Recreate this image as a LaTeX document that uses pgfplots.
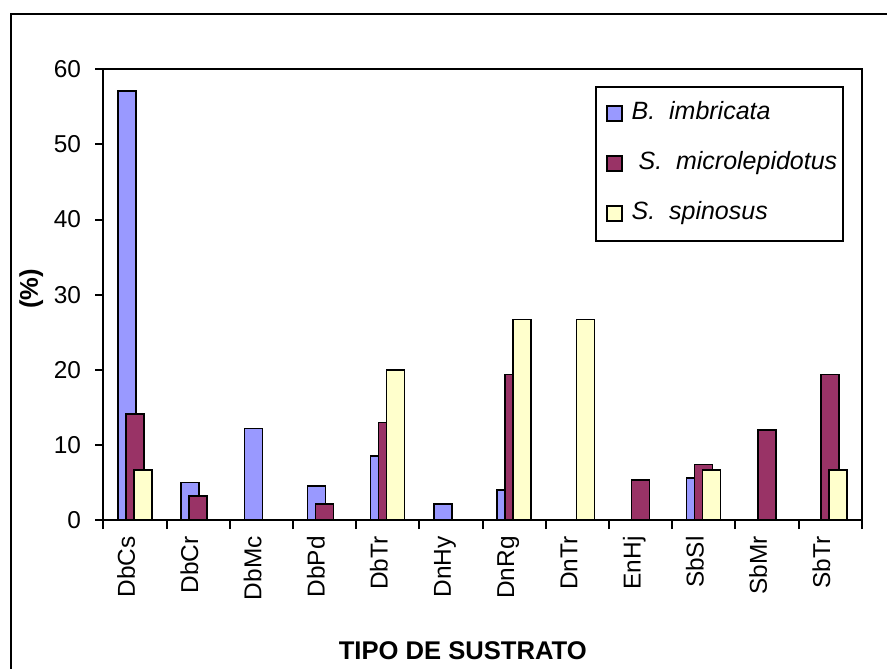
\documentclass[border=0pt]{standalone}
\usepackage{fontspec}
\setmainfont{Liberation Sans}
\usepackage{pgfplots}
\pgfplotsset{compat=1.18}

\definecolor{barblue}{HTML}{9999FF}
\definecolor{barmaroon}{HTML}{993366}
\definecolor{baryellow}{HTML}{FFFFCC}

\begin{document}
\begin{tikzpicture}
% page area
\useasboundingbox (0,0) rectangle (443.5pt,334pt);
% outer chart frame
\draw[line width=1pt] (5.25pt,-20pt) -- (5.25pt,327pt) -- (470pt,327pt);

\begin{axis}[
  at={(51.65pt,74pt)}, anchor=south west,
  scale only axis,
  width=379.2pt, height=225.35pt,
  xmin=-0.5, xmax=11.5,
  ymin=0, ymax=60,
  ytick={0,10,...,60},
  xtick={0,...,11},
  xticklabels={DbCs,DbCr,DbMc,DbPd,DbTr,DnHy,DnRg,DnTr,EnHj,SbSl,SbMr,SbTr},
  major x tick style={draw=none},
  minor xtick={-0.5,0.5,...,11.5},
  tick align=outside,
  xtick pos=bottom, ytick pos=left,
  major tick length=4pt, minor tick length=4.5pt,
  axis line style={line width=1pt},
  every tick/.style={black, line width=1pt},
  /pgf/number format/assume math mode=true,
  xticklabel style={font=\fontsize{12.2pt}{14.6pt}\selectfont, rotate=90, anchor=base east, inner sep=0pt},
  xticklabel shift=4pt,
  yticklabel style={font=\fontsize{12.2pt}{14.6pt}\selectfont, inner sep=0pt},
  yticklabel shift=7pt,
  xlabel={TIPO DE SUSTRATO},
  ylabel={(\%)},
  every axis x label/.style={at={(axis description cs:0.474,-0.2907)}, anchor=center,
    font=\fontsize{12.8pt}{15pt}\selectfont\bfseries},
  every axis y label/.style={at={(axis description cs:-0.095,0.513)}, rotate=90, anchor=center,
    font=\fontsize{12.8pt}{15pt}\selectfont\bfseries},
  legend style={
    at={(axis description cs:0.977,0.9636)}, anchor=north east,
    draw=black, line width=1pt,
    font=\fontsize{12.5pt}{15pt}\selectfont\itshape,
    inner xsep=3pt, inner ysep=8pt,
    row sep=14pt,
    nodes={text height=8.5pt, text depth=2.5pt, inner ysep=0pt, inner xsep=0pt},
  },
  legend cell align=left,
  legend image code/.code={
    \draw[#1, line width=0.75pt] (0pt,-3.75pt) rectangle (7.5pt,3.75pt);
    \path (-2pt,0pt) (12pt,0pt);
  },
]
\addplot[ybar, bar width=0.285, bar shift=-0.127, fill=barblue, draw=black, line width=0.75pt]
  coordinates {(0,57.1) (1,5.0) (2,12.2) (3,4.5) (4,8.5) (5,2.1) (6,4.0) (9,5.6)};
\addplot[ybar, bar width=0.285, bar shift=0, fill=barmaroon, draw=black, line width=0.75pt]
  coordinates {(0,14.1) (1,3.2) (3,2.1) (4,13.0) (6,19.4) (8,5.3) (9,7.4) (10,12.0) (11,19.4)};
\addplot[ybar, bar width=0.285, bar shift=0.127, fill=baryellow, draw=black, line width=0.75pt]
  coordinates {(0,6.67) (4,20.0) (6,26.67) (7,26.67) (9,6.67) (11,6.67)};
\legend{B.\ \ imbricata, \ S.\ \ microlepidotus, S.\ \ spinosus}
\end{axis}
\end{tikzpicture}
\end{document}
